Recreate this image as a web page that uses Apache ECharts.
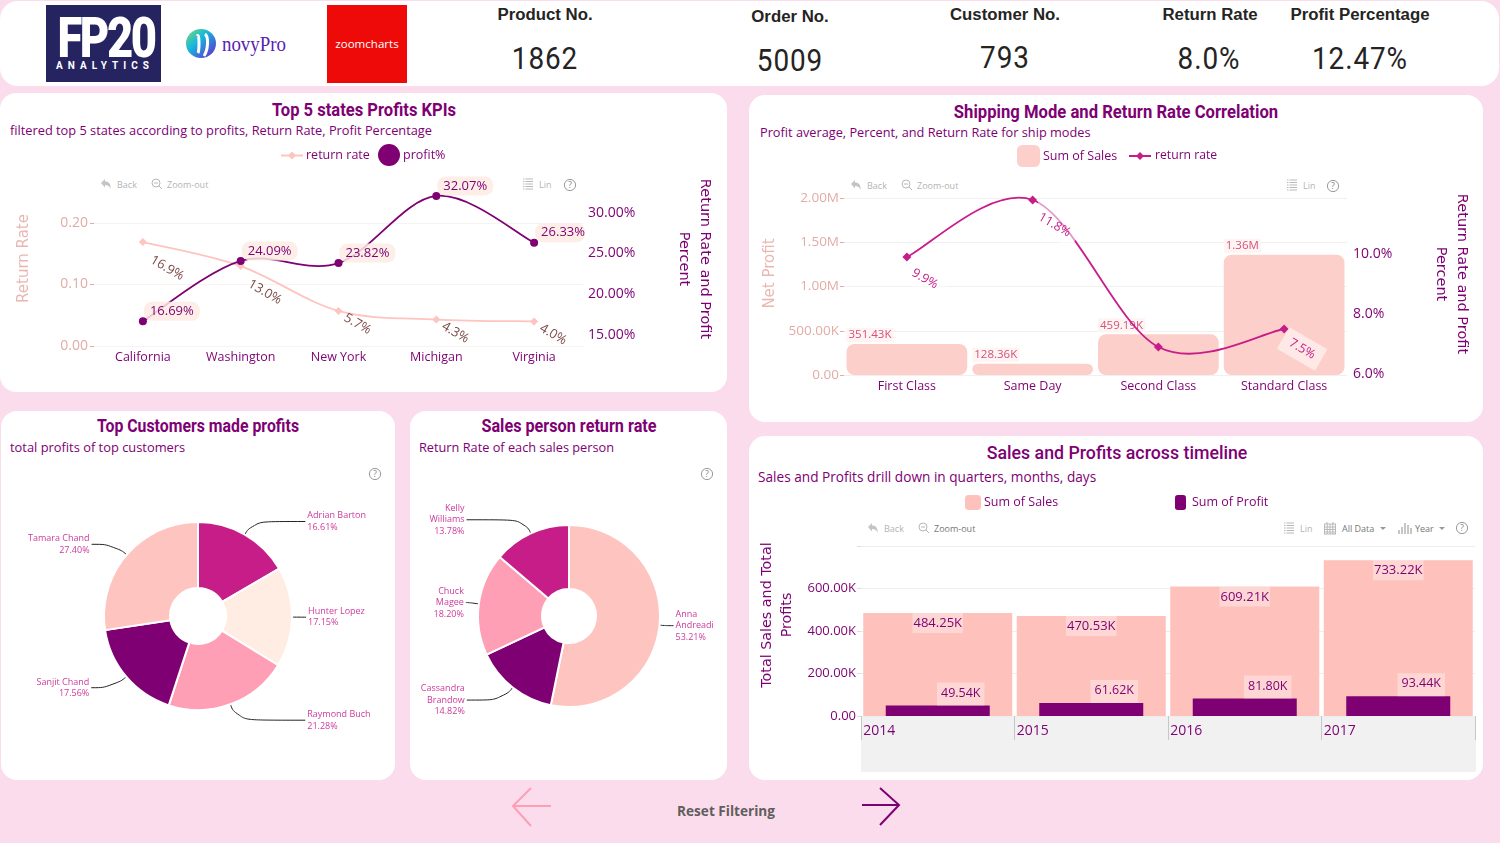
<!DOCTYPE html>
<html>
<head>
<meta charset="utf-8">
<title>Sales dashboard</title>
<script src="https://cdn.jsdelivr.net/npm/echarts@6/dist/echarts.min.js"></script>
<style>
  html, body { margin: 0; padding: 0; background: #fbdcec; overflow: hidden; }
  #page { position: relative; width: 1500px; height: 843px; background: #fbdcec; font-family: "Open Sans", sans-serif; }
  .card { position: absolute; background: #fff; border-radius: 16px; }
  .chart { position: absolute; }
  .t { position: absolute; white-space: nowrap; line-height: 1; }
  .title { font-family: Roboto, sans-serif; font-weight: 700; color: #7e0073; font-size: 18px; }
  .sub { font-family: "Open Sans", sans-serif; color: #7e0073; font-size: 13px; }
  .kpiHead { font-family: "Liberation Sans", sans-serif; font-weight: 700; color: #252423; font-size: 16.8px; }
  .kpiVal { font-family: Roboto, sans-serif; color: #252423; font-size: 31px; }
  .tool { font-family: "Open Sans", sans-serif; font-size: 9px; color: #b4b4b4; }
  svg.abs { position: absolute; overflow: visible; }
</style>
</head>
<body>
<div id="page"></div>
<script>
// ---------- dashboard values ----------
const kpiNames = ['Product No.', 'Order No.', 'Customer No.', 'Return Rate', 'Profit Percentage'];
const kpiValues = ['1862', '5009', '793', '8.0%', '12.47%'];

const states = ['California', 'Washington', 'New York', 'Michigan', 'Virginia'];
const stateReturnRate = [0.169, 0.130, 0.057, 0.043, 0.040];
const stateProfitPct = [16.69, 24.09, 23.82, 32.07, 26.33];

const shipModes = ['First Class', 'Same Day', 'Second Class', 'Standard Class'];
const shipSales = [351430, 128360, 459190, 1360000];
const shipReturnRate = [9.9, 11.8, 6.9, 7.5];

const customers = ['Adrian Barton', 'Hunter Lopez', 'Raymond Buch', 'Sanjit Chand', 'Tamara Chand'];
const customerShare = [16.61, 17.15, 21.28, 17.56, 27.40];

const salesPeople = ['Anna Andreadi', 'Cassandra Brandow', 'Chuck Magee', 'Kelly Williams'];
const salesPersonShare = [53.21, 14.82, 18.20, 13.78];

const years = ['2014', '2015', '2016', '2017'];
const yearSales = [484250, 470530, 609210, 733220];
const yearProfit = [49540, 61620, 81800, 93440];

// ---------- palette ----------
const PURPLE = '#7e0073', MAGENTA = '#c71d88', ROSE = '#fec4bf', PINK = '#fe9fb6', CREAM = '#ffece3';
const PALE_AXIS = '#e2aca6';
const UI_FONT = '"Open Sans", sans-serif';
const NAME_FONT = '"DejaVu Sans", sans-serif';

// ---------- page chrome helpers ----------
const page = document.getElementById('page');

function card(x, y, w, h, radius) {
  const d = document.createElement('div');
  d.className = 'card';
  d.style.cssText = `left:${x}px;top:${y}px;width:${w}px;height:${h}px;` + (radius ? `border-radius:${radius}px;` : '');
  page.appendChild(d);
}
function text(str, x, y, cls, opts) {
  opts = opts || {};
  const d = document.createElement('div');
  d.className = 't ' + cls;
  d.textContent = str;
  const anchor = opts.left ? '0' : '-50%';
  const origin = opts.left ? 'left center' : 'center center';
  d.style.cssText = `left:${x}px;top:${y}px;transform-origin:${origin};transform:translate(${anchor},-50%) scaleX(${opts.sx || 1});` + (opts.css || '');
  page.appendChild(d);
  return d;
}
function icon(x, y, markup) {
  const ns = document.createElement('div');
  ns.innerHTML = `<svg class="abs" style="left:${x}px;top:${y}px" width="16" height="16" fill="none" stroke="#b8b8b8" stroke-width="1">${markup}</svg>`;
  page.appendChild(ns.firstChild);
}
const ICONS = {
  back: '<path d="M1 5 L5 1 V3.5 C9 3.5 11 6 10.5 11 C9.5 8 8 7 5 7 V9.5 Z" fill="#c4c4c4" stroke="none"/>',
  zoom: '<circle cx="5" cy="5" r="4"/><path d="M3 5 H7 M8 8 L11 11"/>',
  list: '<path d="M0 1 H10 M0 3.5 H10 M0 6 H10 M0 8.5 H10 M0 11 H10" stroke-dasharray="1.5 1 8 0"/>',
  help: '<circle cx="6" cy="6" r="5.6" stroke="#9a9a9a"/><text x="6" y="9" font-size="9" font-family="Open Sans" fill="#8a8a8a" stroke="none" text-anchor="middle">?</text>',
  cal: '<rect x="0.5" y="2" width="11" height="10"/><path d="M0.5 5 H11.5 M0.5 7.5 H11.5 M0.5 10 H11.5 M3.2 2 V12 M6 2 V12 M8.8 2 V12 M3 0 V2 M9 0 V2"/>',
  bars: '<path d="M1 12 V8 M4 12 V5 M7 12 V1 M10 12 V3 M13 12 V6" stroke-width="1.6"/>',
  caret: '<path d="M0 0 H6 L3 3 Z" fill="#9a9a9a" stroke="none"/>'
};

// ---------- cards ----------
card(0, 1, 1499, 85, 18);
card(0, 93, 727, 299);
card(749, 95, 734, 327);
card(1, 411, 394, 369);
card(410, 411, 317, 369);
card(749, 436, 734, 344);

// ---------- logos ----------
(function () {
  const a = document.createElement('div');
  a.style.cssText = 'position:absolute;left:46px;top:5px;width:115px;height:77px;background:#262460;';
  page.appendChild(a);
  text('FP20', 106, 38, '', { sx: 0.81, css: 'font-family:Roboto,sans-serif;font-weight:900;font-size:56px;color:#fff;letter-spacing:-3px;' });
  text('ANALYTICS', 105, 66, '', { css: 'font-family:Roboto,sans-serif;font-weight:700;font-size:10px;color:#fff;letter-spacing:5px;' });
  const b = document.createElement('div');
  b.innerHTML = '<svg class="abs" style="left:186px;top:29px" width="34" height="30"><defs><linearGradient id="g1" x1="0" y1="0" x2="1" y2="1"><stop offset="0" stop-color="#7fdc6a"/><stop offset="0.4" stop-color="#16b8dc"/><stop offset="1" stop-color="#6b1fd0"/></linearGradient></defs><ellipse cx="15" cy="14.5" rx="15" ry="14.5" fill="url(#g1)"/><path d="M11 7 C14 4 13 22 12 24 M19 5 C23 8 22 21 18 27" stroke="#fff" stroke-width="3" fill="none"/></svg>';
  page.appendChild(b.firstChild);
  text('novyPro', 254, 44, '', { sx: 0.9, css: 'font-family:"Liberation Serif",serif;font-size:21px;color:#5a20b0;' });
  const c = document.createElement('div');
  c.style.cssText = 'position:absolute;left:327px;top:5px;width:80px;height:78px;background:#ef0a0a;';
  page.appendChild(c);
  text('zoomcharts', 367, 43, '', { sx: 1.05, css: 'font-family:"Open Sans",sans-serif;font-size:11px;color:#fff;' });
})();

// ---------- KPI strip ----------
const kpiHeadPos = [[545, 15], [790, 17], [1005, 15], [1210, 15], [1360, 15]];
const kpiValPos = [[545, 58], [790, 60], [1005, 57], [1209, 58], [1360, 58]];
kpiNames.forEach((n, i) => {
  text(n, kpiHeadPos[i][0], kpiHeadPos[i][1], 'kpiHead');
  text(kpiValues[i], kpiValPos[i][0], kpiValPos[i][1], 'kpiVal', { sx: 0.9, css: 'letter-spacing:1px;' });
});

// ---------- panel headings ----------
text('Top 5 states Profits KPIs', 364, 110, 'title', { sx: 0.92 });
text('filtered top 5 states according to profits, Return Rate, Profit Percentage', 10, 130, 'sub', { left: true, sx: 0.984 });
text('Shipping Mode and Return Rate Correlation', 1116, 112, 'title', { sx: 0.925 });
text('Profit average, Percent, and Return Rate for ship modes', 760, 132, 'sub', { left: true, sx: 0.98 });
text('Top Customers made profits', 198, 426, 'title', { sx: 0.88 });
text('total profits of top customers', 10, 447, 'sub', { left: true, sx: 0.99 });
text('Sales person return rate', 569, 426, 'title', { sx: 0.9 });
text('Return Rate of each sales person', 419, 447, 'sub', { left: true, sx: 0.98 });
text('Sales and Profits across timeline', 1117, 452, 'title', { sx: 0.935, css: 'font-weight:500;font-size:19px;' });
text('Sales and Profits drill down in quarters, months, days', 758, 476, 'sub', { left: true, sx: 0.91, css: 'font-size:15px;' });

// ---------- chart toolbars ----------
function leftTools(x, y, dark) {
  icon(x, y - 6, ICONS.back);
  text('Back', x + 17, y, 'tool', { left: true });
  icon(x + 51, y - 6, ICONS.zoom);
  text('Zoom-out', x + 67, y, 'tool', { left: true, css: dark ? 'color:#777;' : '' });
}
function lin(x, y) {
  icon(x, y - 6, ICONS.list);
  text('Lin', x + 16, y, 'tool', { left: true });
}
leftTools(100, 184);
lin(523, 184);
icon(564, 179, ICONS.help);
leftTools(850, 185);
lin(1287, 185);
icon(1327, 180, ICONS.help);
leftTools(867, 528, true);
lin(1284, 528);
icon(1324, 522, ICONS.cal);
text('All Data', 1342, 528, 'tool', { left: true, css: 'color:#777;' });
icon(1380, 527, ICONS.caret);
icon(1398, 522, ICONS.bars);
text('Year', 1415, 528, 'tool', { left: true, css: 'color:#777;' });
icon(1439, 527, ICONS.caret);
icon(1456, 522, ICONS.help);
icon(369, 468, ICONS.help);
icon(701, 468, ICONS.help);

// ---------- navigation footer ----------
(function () {
  const f = document.createElement('div');
  f.innerHTML = `<svg class="abs" style="left:0;top:0" width="1500" height="843" fill="none" stroke-width="2">
    <path d="M551 806 H513 M531 788 L513 806 L531 826" stroke="${PINK}"/>
    <path d="M862 805 H899 M880 788 L899 805 L880 825" stroke="${PURPLE}"/></svg>`;
  page.appendChild(f.firstChild);
  text('Reset Filtering', 726, 811, '', { sx: 0.97, css: 'font-family:"Open Sans",sans-serif;font-weight:700;font-size:14px;color:#605e5c;' });
})();

// grey band underneath the year axis
(function () {
  const d = document.createElement('div');
  d.style.cssText = 'position:absolute;left:861px;top:716px;width:615px;height:56px;background:#f1f1f1;';
  page.appendChild(d);
})();

// ---------- chart helpers ----------
function mount(x, y, w, h) {
  const d = document.createElement('div');
  d.className = 'chart';
  d.style.cssText = `left:${x}px;top:${y}px;width:${w}px;height:${h}px;`;
  page.appendChild(d);
  return echarts.init(d);
}
const kFmt = v => v === 0 ? '0.00' : v >= 1e6 ? (v / 1e6).toFixed(2) + 'M' : (v / 1e3).toFixed(2) + 'K';

// Catmull-Rom curve through a series' values, one segment per data item, placed through the axes.
function splineSeries(values, xAxisIndex, yAxisIndex, color, z) {
  return {
    type: 'custom', xAxisIndex, yAxisIndex, silent: true, z, clip: false,
    data: values.map((v, i) => [i, v]),
    renderItem(params, api) {
      const i = params.dataIndex;
      if (i >= values.length - 1) return null;
      const at = k => api.coord([Math.max(0, Math.min(values.length - 1, k)), values[Math.max(0, Math.min(values.length - 1, k))]]);
      const p0 = at(i - 1), p1 = at(i), p2 = at(i + 1), p3 = at(i + 2);
      return {
        type: 'bezierCurve',
        shape: {
          x1: p1[0], y1: p1[1], x2: p2[0], y2: p2[1],
          cpx1: p1[0] + (p2[0] - p0[0]) / 6, cpy1: p1[1] + (p2[1] - p0[1]) / 6,
          cpx2: p2[0] - (p3[0] - p1[0]) / 6, cpy2: p2[1] - (p3[1] - p1[1]) / 6
        },
        style: { stroke: color, lineWidth: 1.8, fill: 'none' }
      };
    }
  };
}

// label placement along the slanted value tags (library offsets follow the 30 degree text rotation)
const STATE_TAG_OFFSET = [[34, 10.5], [34, 10.5], [23, 1.8], [23, 1.8], [23, 1.8]];
const SHIP_TAG_OFFSET = [[26.6, 10], [31.5, 10.7], [0, 0], [25.6, 8.3]];

// ---------- top 5 states ----------
mount(0, 93, 727, 299).setOption({
  animation: false,
  legend: [
    { data: ['return rate'], left: 280, top: 56, padding: 0, itemWidth: 22, itemHeight: 10, itemGap: 0,
      lineStyle: { opacity: 1, width: 2 },
      textStyle: { color: PURPLE, fontFamily: UI_FONT, fontSize: 12.5, padding: [0, 0, 0, -2] } },
    { data: [{ name: 'profit%', icon: 'circle' }], left: 378, top: 51, padding: 0, itemWidth: 22, itemHeight: 22,
      textStyle: { color: PURPLE, fontFamily: UI_FONT, fontSize: 12.5, padding: [2, 0, 0, -2] } }
  ],
  grid: [
    { left: 94, right: 144, top: 130, bottom: 46, outerBoundsMode: 'none' },
    { left: 94, right: 144, top: 79, bottom: 57, outerBoundsMode: 'none' }
  ],
  xAxis: [
    { type: 'category', gridIndex: 0, data: states, axisLine: { show: false }, axisTick: { show: false },
      axisLabel: { color: PURPLE, fontFamily: UI_FONT, fontSize: 12.5, margin: 5 } },
    { type: 'category', gridIndex: 1, data: states, show: false }
  ],
  yAxis: [
    { type: 'value', gridIndex: 0, min: 0, max: 0.2, interval: 0.1, axisLine: { show: false },
      axisTick: { show: true, length: 4, lineStyle: { color: PALE_AXIS } },
      splitLine: { lineStyle: { color: '#f6f3f3' } },
      axisLabel: { color: PALE_AXIS, fontFamily: UI_FONT, fontSize: 14, margin: 6, padding: [2, 0, 0, 0], formatter: v => v.toFixed(2) },
      name: 'Return Rate', nameLocation: 'middle', nameGap: 62, nameRotate: 90,
      nameTextStyle: { color: '#e9b7b1', fontFamily: NAME_FONT, fontSize: 15, padding: [0, 0, 0, 52] } },
    { type: 'value', gridIndex: 1, position: 'right', min: 15, max: 35, interval: 5, axisLine: { show: false },
      axisTick: { show: false }, splitLine: { show: false },
      axisLabel: { color: PURPLE, fontFamily: UI_FONT, fontSize: 14, margin: 5, padding: [2, 0, 0, 0], formatter: v => v === 35 ? '' : v.toFixed(2) + '%' },
      name: 'Return Rate and Profit\nPercent', nameLocation: 'middle', nameGap: 90, nameRotate: -90,
      nameTextStyle: { color: PURPLE, fontFamily: NAME_FONT, fontSize: 14.5, lineHeight: 21, padding: [0, 0, 0, 11] } }
  ],
  series: [
    splineSeries(stateReturnRate, 0, 0, ROSE, 2),
    { name: 'return rate', type: 'line', xAxisIndex: 0, yAxisIndex: 0, z: 3,
      data: stateReturnRate.map((v, i) => ({ value: v, label: { offset: STATE_TAG_OFFSET[i] } })),
      symbol: 'diamond', symbolSize: 8, lineStyle: { color: ROSE, width: 2, opacity: 0 }, itemStyle: { color: ROSE },
      label: { show: true, position: 'inside', rotate: -30, color: '#7b4a45', fontFamily: UI_FONT, fontSize: 13,
        formatter: p => (p.value * 100).toFixed(1) + '%' } },
    splineSeries(stateProfitPct, 1, 1, PURPLE, 4),
    { name: 'profit%', type: 'line', xAxisIndex: 1, yAxisIndex: 1, z: 5,
      data: stateProfitPct.map((v, i) => i === 4 ? { value: v, label: { padding: [3, 0, 3, 6] } } : v),
      symbol: 'circle', symbolSize: 8, lineStyle: { color: PURPLE, width: 2, opacity: 0 }, itemStyle: { color: PURPLE },
      label: { show: true, position: 'right', distance: 0, offset: [-3, -10], color: PURPLE, fontFamily: UI_FONT, fontSize: 13,
        backgroundColor: 'rgba(253,235,228,0.85)', borderRadius: 8, padding: [3, 6],
        formatter: p => p.value.toFixed(2) + '%' } }
  ]
});

// ---------- shipping modes ----------
mount(749, 95, 734, 327).setOption({
  animation: false,
  legend: [
    { data: ['Sum of Sales'], left: 268, top: 50, padding: 0, itemWidth: 23, itemHeight: 22, itemStyle: { borderRadius: 6 },
      textStyle: { color: PURPLE, fontFamily: UI_FONT, fontSize: 12.5, padding: [0, 0, 0, -2] } },
    { data: ['return rate'], left: 379, top: 55, padding: 0, itemWidth: 22, itemHeight: 10,
      lineStyle: { opacity: 1, width: 2 },
      textStyle: { color: PURPLE, fontFamily: UI_FONT, fontSize: 12.2, padding: [0, 0, 0, -1] } }
  ],
  grid: [
    { left: 95, right: 136, top: 103, bottom: 47, outerBoundsMode: 'none' },
    { left: 95, right: 136, top: 99, bottom: 48, outerBoundsMode: 'none' }
  ],
  xAxis: [
    { type: 'category', gridIndex: 0, data: shipModes, axisLine: { show: false }, axisTick: { show: false },
      axisLabel: { color: PURPLE, fontFamily: UI_FONT, fontSize: 12.5, margin: 5 } },
    { type: 'category', gridIndex: 1, data: shipModes, show: false }
  ],
  yAxis: [
    { type: 'value', gridIndex: 0, min: 0, max: 2000000, interval: 500000, axisLine: { show: false },
      axisTick: { show: true, length: 4, lineStyle: { color: PALE_AXIS } },
      splitLine: { lineStyle: { color: '#f2efef' } },
      axisLabel: { color: PALE_AXIS, fontFamily: UI_FONT, fontSize: 13.5, margin: 5, padding: [2, 0, 0, 0], formatter: kFmt },
      name: 'Net Profit', nameLocation: 'middle', nameGap: 62, nameRotate: 90,
      nameTextStyle: { color: '#e9b7b1', fontFamily: NAME_FONT, fontSize: 15, padding: [0, 0, 0, 26] } },
    { type: 'value', gridIndex: 1, position: 'right', min: 6, max: 12, interval: 2, axisLine: { show: false },
      axisTick: { show: false }, splitLine: { show: false },
      axisLabel: { color: PURPLE, fontFamily: UI_FONT, fontSize: 14, margin: 6, padding: [2, 0, 0, 0], formatter: v => v === 12 ? '' : v.toFixed(1) + '%' },
      name: 'Return Rate and Profit\nPercent', nameLocation: 'middle', nameGap: 83, nameRotate: -90,
      nameTextStyle: { color: PURPLE, fontFamily: NAME_FONT, fontSize: 14.5, lineHeight: 21, padding: [0, 20, 0, 0] } }
  ],
  series: [
    { name: 'Sum of Sales', type: 'bar', xAxisIndex: 0, yAxisIndex: 0, data: shipSales, barCategoryGap: '4%', z: 2,
      itemStyle: { color: '#fccfca', borderRadius: 8 },
      label: { show: true, position: [0, -16], align: 'left', color: '#d4517f', fontFamily: UI_FONT, fontSize: 11.5,
        backgroundColor: '#fef4f2', padding: [1, 2], formatter: p => kFmt(p.value) } },
    splineSeries(shipReturnRate, 1, 1, MAGENTA, 4),
    { name: 'return rate', type: 'line', xAxisIndex: 1, yAxisIndex: 1, z: 5,
      data: shipReturnRate.map((v, i) => i === 2 ? { value: v, label: { show: false } } : { value: v, label: { offset: SHIP_TAG_OFFSET[i] } }),
      symbol: 'diamond', symbolSize: 9, lineStyle: { color: MAGENTA, width: 2, opacity: 0 }, itemStyle: { color: MAGENTA },
      label: { show: true, position: 'inside', rotate: -30, color: MAGENTA, fontFamily: UI_FONT, fontSize: 12.5,
        backgroundColor: 'rgba(255,255,255,0.55)', padding: [6, 8], formatter: p => p.value.toFixed(1) + '%' } }
  ]
});

// ---------- donut panels ----------
function donut(host, center, radius, names, values, colors, linePlan, wrapNames) {
  host.setOption({
    animation: false,
    series: [{
      type: 'pie', center, radius, startAngle: 90, clockwise: true, avoidLabelOverlap: false,
      itemStyle: { borderColor: '#fff', borderWidth: 2 },
      label: { show: true, position: 'outside', color: '#cd3a9c', fontFamily: UI_FONT, fontSize: 9, lineHeight: 11.5,
        distanceToLabelLine: 2,
        formatter: p => (wrapNames ? p.name.replace(' ', '\n') : p.name) + '\n' + p.value.toFixed(2) + '%' },
      labelLine: { show: true, smooth: 0.6, lineStyle: { color: '#222', width: 1 } },
      data: names.map((name, i) => ({
        name, value: values[i], itemStyle: { color: colors[i] },
        label: { padding: [linePlan[i][2] || 0, 0, 0, 0] },
        labelLine: { length: linePlan[i][0], length2: linePlan[i][1] }
      }))
    }]
  });
}
donut(mount(1, 411, 394, 369), [197, 205], [28, 94], customers, customerShare,
  [MAGENTA, CREAM, PINK, PURPLE, ROSE],
  [[15, 53], [7, 7], [17, 69], [17, 22], [16, 23]], false);
donut(mount(410, 411, 317, 369), [159, 205], [27, 91], salesPeople, salesPersonShare,
  [ROSE, PURPLE, PINK, MAGENTA],
  [[5, 9, 4], [16, 36], [10, 3], [15, 58, 2]], true);

// ---------- yearly sales and profit ----------
mount(749, 436, 734, 344).setOption({
  animation: false,
  legend: [
    { data: ['Sum of Sales'], left: 216, top: 59, padding: 0, itemWidth: 16, itemHeight: 15,
      textStyle: { color: PURPLE, fontFamily: UI_FONT, fontSize: 12.5, padding: [0, 0, 0, -2] } },
    { data: ['Sum of Profit'], left: 426, top: 59, padding: 0, itemWidth: 11, itemHeight: 15,
      textStyle: { color: PURPLE, fontFamily: UI_FONT, fontSize: 12.5, padding: [0, 0, 0, 1] } }
  ],
  grid: { left: 112, right: 8, top: 110, bottom: 64, outerBoundsMode: 'none' },
  xAxis: [
    { type: 'category', data: years, axisLine: { show: false },
      axisTick: { show: true, interval: 0, length: 24, lineStyle: { color: '#c6c6c6' } },
      axisLabel: { interval: 0, color: PURPLE, fontFamily: UI_FONT, fontSize: 14, margin: 8, padding: [0, 117, 0, 0] } },
    { type: 'category', data: years, show: false }
  ],
  yAxis: {
    type: 'value', min: 0, max: 800000, interval: 200000, axisLine: { show: false },
    axisTick: { show: true, length: 4, lineStyle: { color: '#dddddd' } },
    splitLine: { lineStyle: { color: '#eeeeee' } },
    axisLabel: { color: PURPLE, fontFamily: UI_FONT, fontSize: 13, margin: 5, padding: [3, 0, 0, 0], formatter: v => v === 800000 ? '' : kFmt(v) },
    name: 'Total Sales and Total\nProfits', nameLocation: 'middle', nameGap: 61, nameRotate: 90,
    nameTextStyle: { color: PURPLE, fontFamily: NAME_FONT, fontSize: 14.3, lineHeight: 19.5, padding: [0, 0, 0, 32] }
  },
  series: [
    { name: 'Sum of Sales', type: 'bar', xAxisIndex: 0, data: yearSales, barWidth: 149, itemStyle: { color: '#fec1bc' },
      label: { show: true, position: 'insideTop', distance: 0, color: PURPLE, fontFamily: UI_FONT, fontSize: 13,
        backgroundColor: 'rgba(255,255,255,0.35)', padding: [4, 1, 3, 1], formatter: p => kFmt(p.value) } },
    { name: 'Sum of Profit', type: 'bar', xAxisIndex: 1, data: yearProfit, barWidth: 104, itemStyle: { color: PURPLE },
      label: { show: true, position: 'top', distance: 0, offset: [23, 0], color: PURPLE, fontFamily: UI_FONT, fontSize: 12.5,
        backgroundColor: 'rgba(255,255,255,0.35)', padding: [4, 4, 6, 4], formatter: p => kFmt(p.value) } }
  ]
});
</script>
</body>
</html>
